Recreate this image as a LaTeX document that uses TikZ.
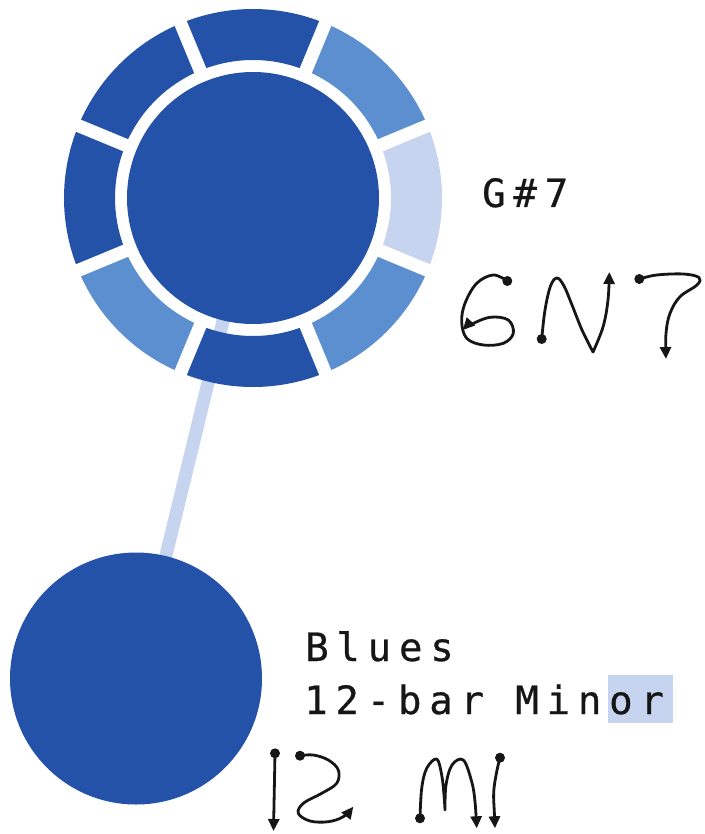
\documentclass[tikz,border=0pt]{standalone}
\usepackage{fontspec}
\usetikzlibrary{arrows.meta,backgrounds}
\newfontfamily\monoA{DejaVu Sans Mono}[LetterSpace=20,FakeBold=0.6]
\definecolor{cdark}{HTML}{2352A8}
\definecolor{cmid}{HTML}{5B8FD0}
\definecolor{clight}{HTML}{C6D4EF}
\definecolor{ink}{HTML}{161616}
\begin{document}
\begin{tikzpicture}[x=1pt,y=-1pt,
  hub/.style={circle, fill=cdark, inner sep=0pt, minimum size=252pt},
  link/.style={clight, line width=13pt},
  pen/.style={ink, line width=2.8pt, line cap=round, line join=round, -{Triangle[length=12pt,width=11pt]}},
  txt/.style={anchor=base west, text=ink, inner sep=0pt, font=\monoA\fontsize{39}{52}\selectfont}]
\useasboundingbox (0,0) rectangle (704,834);
\node[hub] (chord) at (253,198) {};
\node[hub] (blues) at (136,678.5) {};
\begin{scope}[on background layer]
  \draw[link] (chord.center) -- (blues.center);
\end{scope}
% ring
\begin{scope}[shift={(chord.center)}]
  \foreach \a/\c in {0/clight,45/cmid,90/cdark,135/cdark,180/cdark,225/cmid,270/cdark,315/cmid}{
    \pgfmathsetmacro{\lo}{\a-22.5}
    \pgfmathsetmacro{\hi}{\a+22.5}
    \fill[\c] (\lo:189pt) arc[start angle=\lo, end angle=\hi, radius=189pt]
      -- (\hi:138pt) arc[start angle=\hi, end angle=\lo, radius=138pt] -- cycle;
  }
  \foreach \g in {22.5,67.5,112.5,157.5,202.5,247.5,292.5,337.5}{
    \draw[white, line width=13pt] (\g:135pt) -- (\g:192pt);
  }
\end{scope}
% texts
\fill[clight] (608,675) rectangle (673,723);
\node[txt] (name) at (482,207) {G\#7};
\node[txt] (genre) at (305,661) {Blues};
\node[txt] (form) at (304,714) {12-bar Minor};
% stroke order: 6
\fill[ink] (507.3,281) circle[radius=5pt];
\draw[pen] plot[smooth, tension=0.6] coordinates {(507.3,281) (493.3,275) (476.7,283.3) (465,303.3) (461.7,321.7) (466.7,338.3) (483.3,345) (503.3,343.3) (513.3,333.3) (508.3,320) (490,317.3) (470,325) (462.7,330)};
% N
\fill[ink] (541.7,339) circle[radius=5pt];
\draw[pen] plot[smooth, tension=0.6] coordinates {(541.7,339) (545,310) (550.5,286) (557,278) (564,286) (572,305) (582,330) (593,352)} -- plot[smooth, tension=0.6] coordinates {(593,352) (603,327) (608,300) (609.3,272)};
% 7
\fill[ink] (639.3,279) circle[radius=5pt];
\draw[pen] plot[smooth, tension=0.6] coordinates {(639.3,279) (656.7,275) (683.3,274) (699,277.5) (697,285) (680,296.7) (670,313.3) (666,333.3) (666,359)};
% 1
\fill[ink] (275,753.3) circle[radius=5pt];
\draw[pen] (275,753.3) -- (273.5,831);
% 2
\fill[ink] (300,755.7) circle[radius=5pt];
\draw[pen] plot[smooth, tension=0.6] coordinates {(300,755.7) (313.3,755) (328.3,760) (338.3,770) (336.7,783.3) (321.7,793.3) (303.3,803.3) (298.3,813.3) (310,821) (328.3,821.7) (343.3,816.7) (353.3,806.7)};
% M
\fill[ink] (420,818.3) circle[radius=5pt];
\draw[pen] plot[smooth, tension=0.6] coordinates {(420,818.3) (421.7,788.3) (426.7,768.3) (436.7,759) (441.7,775) (444,795) (445,810)} -- plot[smooth, tension=0.6] coordinates {(445,810) (446,785) (452,765) (463.3,760) (471.7,781.7) (475,801.7) (476.7,828.3)};
% I
\fill[ink] (500,757.7) circle[radius=5pt];
\draw[pen] plot[smooth, tension=0.6] coordinates {(500,757.7) (496.7,771.7) (493.7,791.7) (494.3,811.7) (495,828.3)};
\end{tikzpicture}
\end{document}
